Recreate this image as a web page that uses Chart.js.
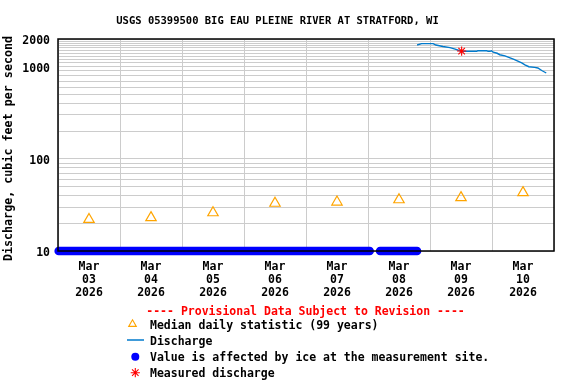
<!DOCTYPE html>
<html><head><meta charset="utf-8">
<script src="https://cdn.jsdelivr.net/npm/chart.js@4/dist/chart.umd.min.js"></script>
<style>html,body{margin:0;padding:0;background:#fff;}#wrap{width:576px;height:384px;}</style>
</head><body><div id="wrap"><canvas id="c" width="576" height="384"></canvas></div>
<script>
// ---- chart text ----
const titleText = 'USGS 05399500 BIG EAU PLEINE RIVER AT STRATFORD, WI';
const yAxisTitle = 'Discharge, cubic feet per second';
const provisionalText = '---- Provisional Data Subject to Revision ----';
const legendLabels = ['Median daily statistic (99 years)', 'Discharge', 'Value is affected by ice at the measurement site.', 'Measured discharge'];

// ---- tick labels ----
const tickMonth = 'Mar';
const tickDays = ['03', '04', '05', '06', '07', '08', '09', '10'];
const tickYear = '2026';
const tickTimes = ['2026-03-03 12:00', '2026-03-04 12:00', '2026-03-05 12:00', '2026-03-06 12:00', '2026-03-07 12:00', '2026-03-08 12:00', '2026-03-09 12:00', '2026-03-10 12:00'];
const yTickLabels = [10, 100, 1000, 2000];
const yGridValues = [10, 20, 30, 40, 50, 60, 70, 80, 90, 100, 200, 300, 400, 500, 600, 700, 800, 900, 1000, 1100, 1200, 1300, 1400, 1500, 1600, 1700, 1800, 1900, 2000];

// ---- series ----
const medianTimes = ['2026-03-03 12:00', '2026-03-04 12:00', '2026-03-05 12:00', '2026-03-06 12:00', '2026-03-07 12:00', '2026-03-08 12:00', '2026-03-09 12:00', '2026-03-10 12:00'];
const medianValues = [22, 23, 26, 33, 34, 36, 38, 43];

const dischargeTimes = ['2026-03-08 19:00', '2026-03-08 20:45', '2026-03-09 01:15', '2026-03-09 02:15', '2026-03-09 05:00', '2026-03-09 07:45', '2026-03-09 09:45', '2026-03-09 11:15', '2026-03-09 12:30', '2026-03-09 18:00', '2026-03-09 18:30', '2026-03-09 22:00', '2026-03-09 22:30', '2026-03-09 23:15', '2026-03-09 23:45', '2026-03-10 00:30', '2026-03-10 02:00', '2026-03-10 03:00', '2026-03-10 05:00', '2026-03-10 07:00', '2026-03-10 08:30', '2026-03-10 10:00', '2026-03-10 11:30', '2026-03-10 12:45', '2026-03-10 14:15', '2026-03-10 16:30', '2026-03-10 17:45', '2026-03-10 19:15', '2026-03-10 21:00'];
const dischargeValues = [1720, 1780, 1780, 1720, 1660, 1610, 1550, 1500, 1470, 1470, 1490, 1490, 1470, 1470, 1490, 1440, 1400, 1350, 1310, 1250, 1200, 1150, 1100, 1050, 1000, 985, 970, 910, 855];

const iceTimes = ['2026-03-03 00:15', '2026-03-08 00:40', '2026-03-08 02:40', '2026-03-08 04:40', '2026-03-08 19:00'];
const iceValues = [10, 10, null, 10, 10];

const measuredTimes = ['2026-03-09 12:15'];
const measuredValues = [1480];

// ---- helpers ----
const X_START = '2026-03-03 00:00';
const X_END = '2026-03-11 00:00';
function toHours(s) {
  const [d, t] = s.split(' ');
  const [Y, M, D] = d.split('-').map(Number);
  const [h, m] = t.split(':').map(Number);
  return Date.UTC(Y, M - 1, D, h, m) / 3600000;
}
const t0 = toHours(X_START);
const hrs = s => toHours(s) - t0;
const pts = (times, vals) => times.map((t, i) => ({x: hrs(t), y: vals[i]}));

const FONT = '"DejaVu Sans Mono", "Liberation Mono", monospace';
const DISCHARGE_COLOR = 'rgb(0,122,204)';
const ICE_COLOR = '#0000ff';
const MEDIAN_COLOR = '#ffa500';
const MEASURED_COLOR = '#ff0000';

const decor = {
  id: 'decor',
  afterDatasetsDraw(chart) {
    const {ctx, chartArea: a} = chart;
    ctx.save();
    ctx.strokeStyle = '#000';
    ctx.lineWidth = 1.5;
    ctx.strokeRect(a.left, a.top, a.right - a.left, a.bottom - a.top);
    ctx.restore();
  },
  afterDraw(chart) {
    const ctx = chart.ctx;
    ctx.save();
    ctx.textBaseline = 'middle';
    // title
    ctx.font = 'bold 10.5px ' + FONT;
    ctx.fillStyle = '#000';
    ctx.textAlign = 'center';
    ctx.fillText(titleText, 277.5, 21);
    // provisional note
    ctx.font = 'bold 11.5px ' + FONT;
    ctx.fillStyle = MEASURED_COLOR;
    ctx.fillText(provisionalText, 305.5, 312);
    // legend
    ctx.textAlign = 'left';
    ctx.fillStyle = '#000';
    const rows = [326, 342, 358, 374];
    legendLabels.forEach((lab, i) => ctx.fillText(lab, 150, rows[i]));
    // median triangle
    let x = 132.5, y = rows[0] - 1.8, r = 4.4;
    ctx.strokeStyle = MEDIAN_COLOR; ctx.lineWidth = 1.1;
    ctx.beginPath();
    ctx.moveTo(x, y - r); ctx.lineTo(x + 0.866 * r, y + 0.5 * r); ctx.lineTo(x - 0.866 * r, y + 0.5 * r); ctx.closePath();
    ctx.stroke();
    // discharge line
    ctx.strokeStyle = DISCHARGE_COLOR; ctx.lineWidth = 1.5;
    ctx.beginPath(); ctx.moveTo(127, rows[1] - 2); ctx.lineTo(144, rows[1] - 2); ctx.stroke();
    // ice dot
    ctx.fillStyle = ICE_COLOR;
    ctx.beginPath(); ctx.arc(135.3, rows[2] - 1.3, 4, 0, Math.PI * 2); ctx.fill();
    // measured star
    ctx.strokeStyle = MEASURED_COLOR; ctx.lineWidth = 1.1;
    x = 135.3; y = rows[3] - 1.3; r = 4.6;
    ctx.beginPath();
    for (let k = 0; k < 4; k++) {
      const ang = k * Math.PI / 4;
      ctx.moveTo(x - r * Math.cos(ang), y - r * Math.sin(ang));
      ctx.lineTo(x + r * Math.cos(ang), y + r * Math.sin(ang));
    }
    ctx.stroke();
    ctx.restore();
  }
};

const tickFont = {family: FONT, size: 11.5, weight: 'bold', lineHeight: 13.3 / 11.5};

new Chart(document.getElementById('c'), {
  type: 'line',
  data: {
    datasets: [
      {
        label: legendLabels[3], data: pts(measuredTimes, measuredValues), showLine: false,
        pointStyle: 'star', pointRadius: 4.6, borderColor: MEASURED_COLOR, borderWidth: 1.1, backgroundColor: MEASURED_COLOR
      },
      {
        label: legendLabels[1], data: pts(dischargeTimes, dischargeValues),
        borderColor: DISCHARGE_COLOR, borderWidth: 1.4, pointRadius: 0, tension: 0, fill: false
      },
      {
        label: legendLabels[0], data: pts(medianTimes, medianValues), showLine: false,
        pointStyle: 'triangle', pointRadius: 6, borderColor: MEDIAN_COLOR, borderWidth: 1.2, backgroundColor: 'rgba(0,0,0,0)'
      },
      {
        label: legendLabels[2], data: pts(iceTimes, iceValues), spanGaps: false,
        borderColor: ICE_COLOR, borderWidth: 8.5, borderCapStyle: 'round', pointRadius: 0, clip: 8
      }
    ]
  },
  options: {
    responsive: false, animation: false, devicePixelRatio: 1,
    layout: {padding: {top: 39, left: 0, right: 22, bottom: 0}},
    plugins: {legend: {display: false}, tooltip: {enabled: false}, title: {display: false}},
    scales: {
      x: {
        type: 'linear', min: hrs(X_START), max: hrs(X_END),
        afterBuildTicks: s => { s.ticks = tickTimes.map(t => ({value: hrs(t)})); },
        afterFit: s => { s.height = 133; },
        grid: {offset: true, color: '#cccccc', lineWidth: 1, drawTicks: false},
        border: {display: false},
        ticks: {
          autoSkip: false, maxRotation: 0, padding: 9, color: '#000', font: tickFont,
          callback: (v, i) => [tickMonth, tickDays[i], tickYear]
        }
      },
      y: {
        type: 'logarithmic', min: 10, max: 2000,
        afterBuildTicks: s => { s.ticks = yGridValues.map(v => ({value: v})); },
        afterFit: s => { s.width = 58; },
        grid: {color: '#cccccc', lineWidth: 1, drawTicks: false},
        border: {display: false},
        ticks: {
          autoSkip: false, padding: 8, labelOffset: 2, color: '#000', font: tickFont,
          callback: v => yTickLabels.includes(v) ? String(v) : ''
        },
        title: {display: true, text: yAxisTitle + ' ', color: '#000', font: {family: FONT, size: 11.7, weight: 'bold'}, padding: {top: 2, bottom: 0}}
      }
    }
  },
  plugins: [decor]
});
</script>
</body></html>
